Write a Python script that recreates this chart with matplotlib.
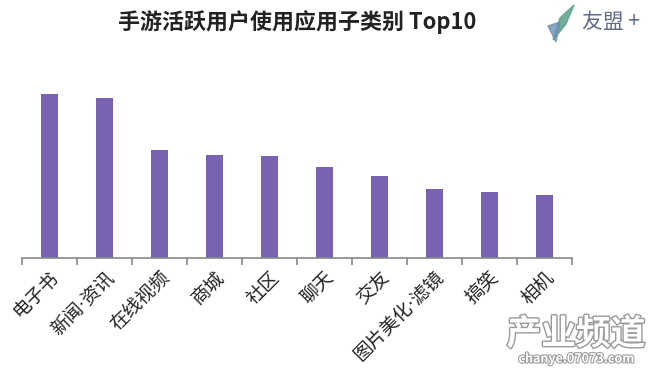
import matplotlib
matplotlib.use("Agg")
import matplotlib.pyplot as plt
import matplotlib.patheffects as pe
import numpy as np
from matplotlib.patches import Polygon

plt.rcParams['font.family'] = ['Noto Sans CJK SC', 'DejaVu Sans']

categories = ['电子书', '新闻·资讯', '在线视频', '商城', '社区', '聊天', '交友', '图片美化·滤镜', '搞笑', '相机']
values = [164, 160, 108, 103, 102, 91, 82, 69, 66, 63]
title = '手游活跃用户使用应用子类别 Top10'

fig = plt.figure(figsize=(6.5, 3.72), dpi=100)
ax = fig.add_axes([22/650, (372-258)/372, (572-22)/650, 178/372])

x = np.arange(len(categories))
ax.bar(x, values, width=0.31, color='#7A62B2')
ax.set_xlim(-0.5, len(categories) - 0.5)
ax.set_ylim(0, 178)

for s in ['top', 'right', 'left']:
    ax.spines[s].set_visible(False)
ax.spines['bottom'].set_color('#888888')
ax.spines['bottom'].set_linewidth(1.2)
ax.set_yticks([])

ax.set_xticks(x)
ax.set_xticklabels(categories, rotation=45, ha='right', rotation_mode='anchor',
                   fontsize=13.5, color='#222222', family=['DejaVu Sans', 'Noto Sans CJK SC'])
ax.tick_params(axis='x', which='major', length=0, pad=7)
ax.set_xticks(np.arange(-0.5, len(categories)), minor=True)
ax.tick_params(axis='x', which='minor', length=5, width=1.2, color='#888888', direction='out')

fig.text(297/650, 1 - 22/372, title, ha='center', va='center', fontsize=15.8,
         fontweight='bold', color='#222222')

# logo
leaf = Polygon([[553/650, 1-40/372], [560/650, 1-18/372], [574/650, 1-5/372], [566/650, 1-24/372]],
               closed=True, transform=fig.transFigure, color='#5BA08A', alpha=0.85)
fig.patches.append(leaf)
leaf2 = Polygon([[548/650, 1-26/372], [560/650, 1-22/372], [556/650, 1-42/372]],
                closed=True, transform=fig.transFigure, color='#6D8FB5', alpha=0.8)
fig.patches.append(leaf2)
fig.text(582/650, 1 - 22/372, '友盟 +', ha='left', va='center', fontsize=15, color='#5F6B85')

# watermark
fig.text(576/650, 1 - 334/372, '产业频道', ha='center', va='center', fontsize=25,
         color='white', fontweight='bold',
         path_effects=[pe.withStroke(linewidth=2, foreground='#9a9a9a')])
fig.text(576/650, 1 - 359/372, 'chanye.07073.com', ha='center', va='center', fontsize=9,
         color='white', fontweight='bold',
         path_effects=[pe.withStroke(linewidth=1.5, foreground='#9a9a9a')])

fig.savefig('out.png', dpi=100)
